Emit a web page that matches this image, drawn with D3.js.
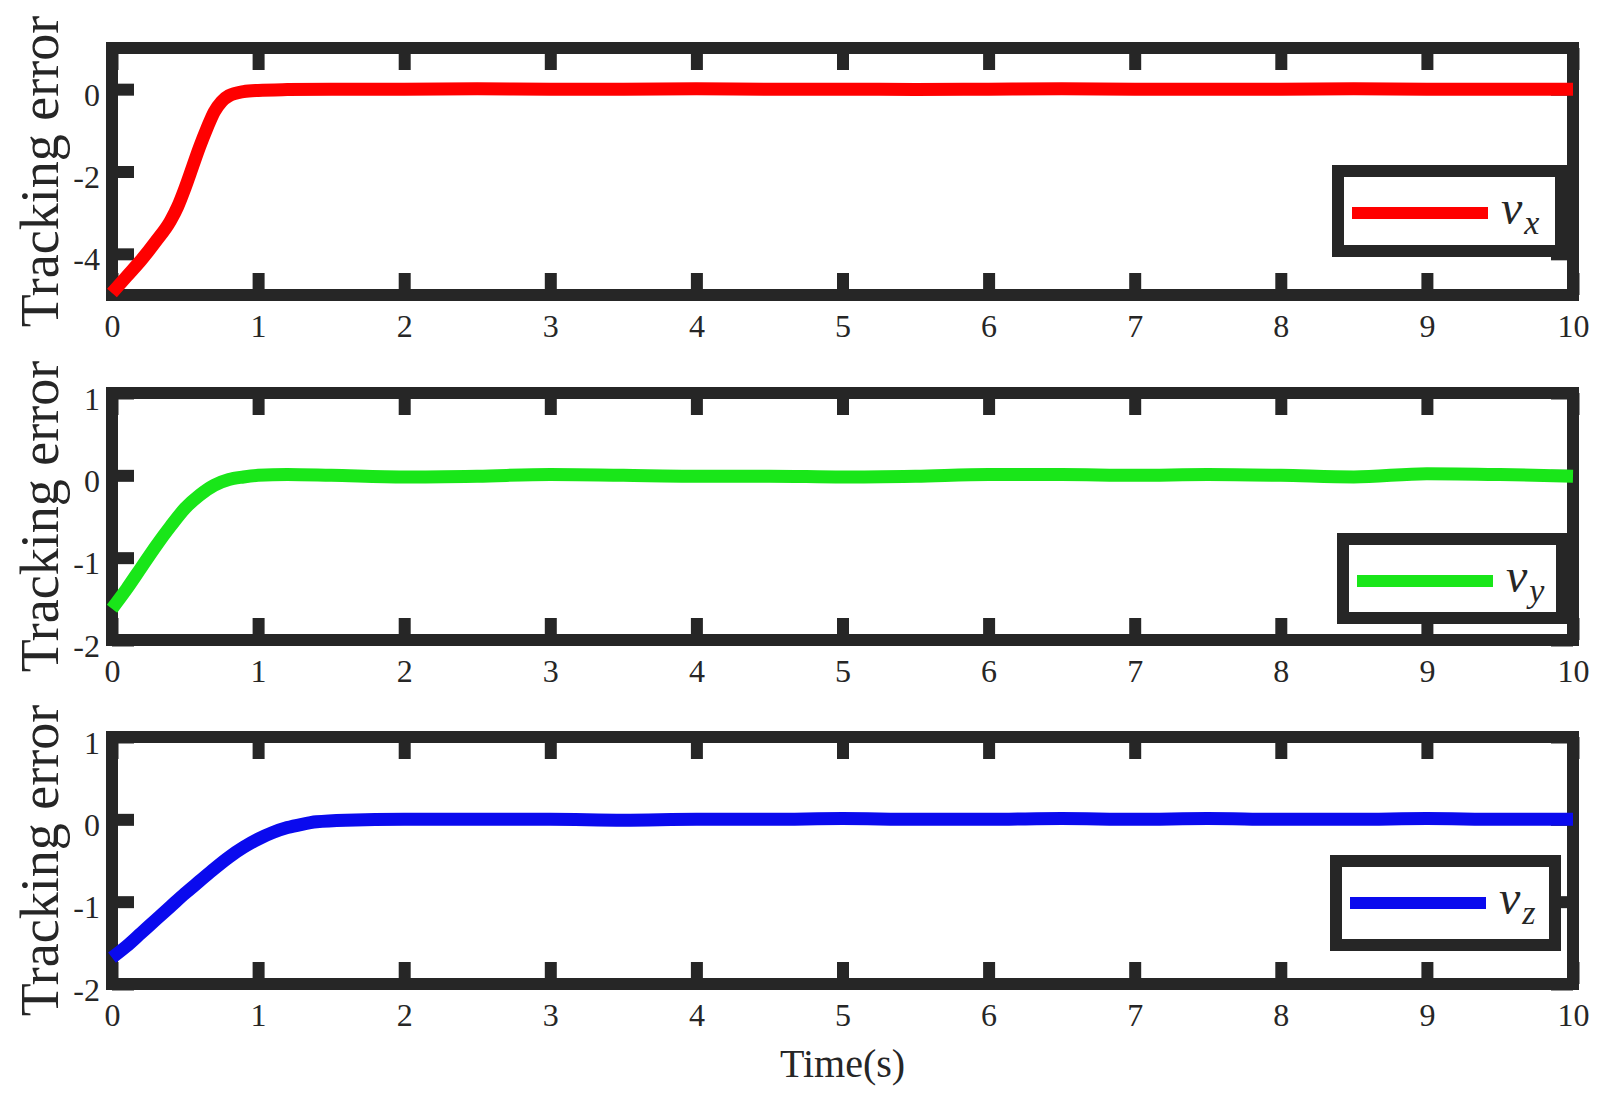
<!DOCTYPE html>
<html>
<head>
<meta charset="utf-8">
<script src="https://cdn.jsdelivr.net/npm/d3@7"></script>
<style>
  html, body { margin: 0; padding: 0; background: #ffffff; }
  svg { display: block; }
  text { font-family: "Liberation Serif", "Times New Roman", serif; fill: #262626; }
</style>
</head>
<body>
<svg id="chart" width="1615" height="1101"></svg>
<script>
// ---------------- data ----------------
const xTicks = [0, 1, 2, 3, 4, 5, 6, 7, 8, 9, 10];
const xTickLabels = ["0", "1", "2", "3", "4", "5", "6", "7", "8", "9", "10"];

const yTicksVx = [-4, -2, 0];
const yTicksVy = [-2, -1, 0, 1];
const yTicksVz = [-2, -1, 0, 1];

const yDomainVx = [-5, 1];
const yDomainVy = [-2, 1];
const yDomainVz = [-2, 1];

const timeVx = [0, 0.1, 0.2, 0.3, 0.4, 0.45, 0.5, 0.55, 0.6, 0.65, 0.7, 0.75, 0.8, 0.9, 1.0, 1.2, 1.5, 2, 2.5, 3, 3.5, 4, 4.5, 5, 5.5, 6, 6.5, 7, 7.5, 8, 8.5, 9, 9.5, 10];
const errVx  = [-4.95, -4.55, -4.15, -3.7, -3.2, -2.85, -2.4, -1.9, -1.4, -0.95, -0.55, -0.3, -0.16, -0.06, -0.03, -0.01, 0.0, 0.0, 0.01, 0.0, 0.0, 0.01, 0.0, 0.0, -0.01, 0.0, 0.01, 0.0, 0.0, 0.0, 0.01, 0.0, 0.0, 0.0];

const timeVy = [0, 0.1, 0.2, 0.3, 0.4, 0.5, 0.6, 0.7, 0.8, 0.9, 1.0, 1.2, 1.5, 2, 2.5, 3, 3.5, 4, 4.5, 5, 5.5, 6, 6.5, 7, 7.5, 8, 8.5, 9, 9.5, 10];
const errVy  = [-1.62, -1.38, -1.12, -0.86, -0.62, -0.40, -0.24, -0.12, -0.05, -0.02, 0.0, 0.01, 0.0, -0.02, -0.01, 0.01, 0.0, -0.01, -0.01, -0.02, -0.01, 0.01, 0.01, 0.0, 0.01, 0.0, -0.02, 0.02, 0.01, -0.01];

const timeVz = [0, 0.1, 0.2, 0.3, 0.4, 0.5, 0.6, 0.7, 0.8, 0.9, 1.0, 1.1, 1.2, 1.3, 1.4, 1.6, 2, 2.5, 3, 3.5, 4, 4.5, 5, 5.5, 6, 6.5, 7, 7.5, 8, 8.5, 9, 9.5, 10];
const errVz  = [-1.68, -1.54, -1.38, -1.22, -1.06, -0.90, -0.75, -0.60, -0.46, -0.34, -0.24, -0.16, -0.10, -0.06, -0.03, -0.01, 0.0, 0.0, 0.0, -0.01, 0.0, 0.0, 0.01, 0.0, 0.0, 0.01, 0.0, 0.01, 0.0, 0.0, 0.01, 0.0, 0.0];

const seriesNames = ["x", "y", "z"];
const seriesColors = ["#ff0000", "#19e619", "#0a0aee"];
const yLabel = "Tracking error";
const xLabel = "Time(s)";

// ---------------- layout ----------------
const svg = d3.select("#chart");
const FRAME = "#262626";
const X0 = 112, X1 = 1573;
const panelTops = [48, 393, 737];
const panelBottoms = [295, 640, 984];
const legendBoxes = [
  { x: 1338, y: 171, w: 223, h: 80 },
  { x: 1343, y: 539, w: 219, h: 79 },
  { x: 1336, y: 861, w: 219, h: 84 }
];

const panels = [
  { t: timeVx, v: errVx, dom: yDomainVx, ticks: yTicksVx },
  { t: timeVy, v: errVy, dom: yDomainVy, ticks: yTicksVy },
  { t: timeVz, v: errVz, dom: yDomainVz, ticks: yTicksVz }
];

const x = d3.scaleLinear().domain([0, 10]).range([X0, X1]);

panels.forEach((p, i) => {
  const top = panelTops[i], bottom = panelBottoms[i];
  const y = d3.scaleLinear().domain(p.dom).range([bottom, top]);
  const g = svg.append("g");

  const TL = 22; // inner tick length
  const styleAxis = (sel) => {
    sel.select(".domain").remove();
    sel.selectAll(".tick line").attr("stroke", FRAME).attr("stroke-width", 12);
    sel.selectAll(".tick text").style("font-size", "32px").attr("fill", "#262626")
       .style("font-family", "'Liberation Serif', 'Times New Roman', serif");
  };

  // bottom axis with labels
  g.append("g").attr("transform", `translate(0,${bottom})`)
    .call(d3.axisBottom(x).tickValues(xTicks).tickFormat((d, k) => xTickLabels[k]).tickSize(-TL).tickPadding(19))
    .call(styleAxis);
  // top axis, no labels
  g.append("g").attr("transform", `translate(0,${top})`)
    .call(d3.axisTop(x).tickValues(xTicks).tickFormat("").tickSize(-TL))
    .call(styleAxis);
  // left axis with labels
  g.append("g").attr("transform", `translate(${X0},0)`)
    .call(d3.axisLeft(y).tickValues(p.ticks).tickFormat(d3.format("d")).tickSize(-TL).tickPadding(12))
    .call(styleAxis)
    .call(s => s.selectAll(".tick text").attr("dy", "0.5em").text(d => String(d).replace("\u2212", "-")));
  // right axis, no labels
  g.append("g").attr("transform", `translate(${X1},0)`)
    .call(d3.axisRight(y).tickValues(p.ticks).tickFormat("").tickSize(-TL))
    .call(styleAxis);

  // frame
  g.append("rect")
    .attr("x", X0).attr("y", top).attr("width", X1 - X0).attr("height", bottom - top)
    .attr("fill", "none").attr("stroke", FRAME).attr("stroke-width", 12);

  // data line
  const data = p.t.map((t, k) => [t, p.v[k]]);
  g.append("path")
    .datum(data)
    .attr("fill", "none")
    .attr("stroke", seriesColors[i])
    .attr("stroke-width", 13)
    .attr("stroke-linejoin", "round")
    .attr("d", d3.line().x(d => x(d[0])).y(d => y(d[1])).curve(d3.curveMonotoneX));

  // y label
  svg.append("text")
    .attr("transform", `translate(58,${(top + bottom) / 2}) rotate(-90)`)
    .attr("text-anchor", "middle")
    .style("font-size", "54px")
    .text(yLabel);

  // legend
  const lb = legendBoxes[i];
  const lg = svg.append("g");
  lg.append("rect")
    .attr("x", lb.x).attr("y", lb.y).attr("width", lb.w).attr("height", lb.h)
    .attr("fill", "#ffffff").attr("stroke", FRAME).attr("stroke-width", 12);
  const ly = lb.y + 42;
  lg.append("line")
    .attr("x1", lb.x + 14).attr("x2", lb.x + 150)
    .attr("y1", ly).attr("y2", ly)
    .attr("stroke", seriesColors[i]).attr("stroke-width", 12);
  const lt = lg.append("text")
    .attr("x", lb.x + 163).attr("y", ly + 11)
    .style("font-size", "48px").style("font-style", "italic");
  lt.append("tspan").text("v");
  lt.append("tspan").attr("dy", 10).attr("dx", 2).style("font-size", "34px").text(seriesNames[i]);
});

// x label
svg.append("text")
  .attr("x", (X0 + X1) / 2).attr("y", 1077)
  .attr("text-anchor", "middle")
  .style("font-size", "40px")
  .text(xLabel);
</script>
</body>
</html>
